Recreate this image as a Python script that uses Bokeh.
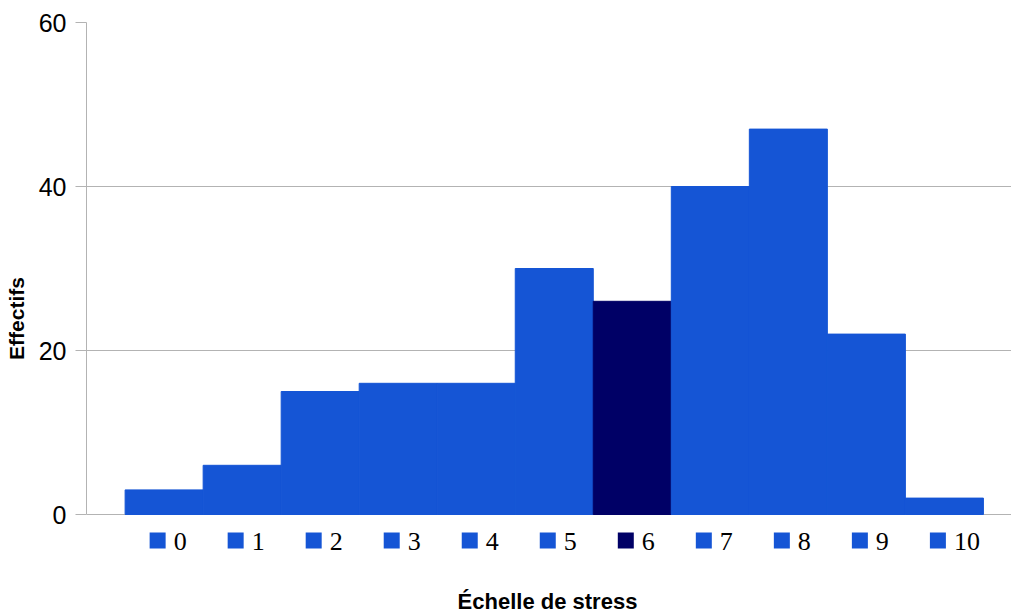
from bokeh.plotting import figure
from bokeh.models import Range1d, FixedTicker, ColumnDataSource
from bokeh.core.properties import value
from bokeh.embed import file_html
from bokeh.resources import INLINE

# Stress scale scores (0-10) and the number of respondents for each score
scores = [0, 1, 2, 3, 4, 5, 6, 7, 8, 9, 10]
counts = [3, 6, 15, 16, 16, 30, 26, 40, 47, 22, 2]
score_labels = [str(s) for s in scores]
y_ticks = [0, 20, 40, 60]

BLUE = "#1555d5"
NAVY = "#000066"
colors = [NAVY if s == 6 else BLUE for s in scores]

W, H = 1011, 614
LEFT, TOP = 86, 22
Y_MAX = 60
PLOT_H = 492                      # pixels between 0 and 60
px_y = Y_MAX / PLOT_H             # data units per vertical pixel
X0, X1 = -0.995, 10.86
px_x = (X1 - X0) / (W - LEFT)     # data units per horizontal pixel

p = figure(
    width=W, height=H,
    x_range=Range1d(X0, X1),
    y_range=Range1d(Y_MAX - (H - TOP) * px_y, Y_MAX),
    x_axis_location=None,
    toolbar_location=None,
    output_backend="svg",
    min_border_left=LEFT, min_border_right=0,
    min_border_top=TOP, min_border_bottom=0,
)
p.outline_line_color = None
p.background_fill_color = "white"
p.border_fill_color = "white"
p.xgrid.visible = False

GRAY = "#b3b3b3"
p.ygrid.ticker = FixedTicker(ticks=y_ticks)
p.ygrid.grid_line_color = GRAY

ax = p.yaxis[0]
ax.ticker = FixedTicker(ticks=y_ticks)
ax.bounds = (0, Y_MAX)
ax.axis_line_color = GRAY
ax.major_tick_line_color = GRAY
ax.major_tick_out = 11
ax.major_tick_in = 0
ax.minor_tick_line_color = None
ax.major_label_text_font = "Liberation Sans"
ax.major_label_text_font_size = "25px"
ax.major_label_text_color = "black"
ax.major_label_standoff = 9
ax.axis_label = "Effectifs"
ax.axis_label_text_font = "Liberation Sans"
ax.axis_label_text_font_style = "bold"
ax.axis_label_text_font_size = "21px"
ax.axis_label_text_color = "black"
ax.axis_label_standoff = 8

src = ColumnDataSource(dict(x=scores, top=counts, color=colors))
p.vbar(x="x", top="top", bottom=0, width=1.0, source=src,
       fill_color="color", line_color="color", line_width=1)

# category key under the bars: a coloured square followed by the score
key_y = Y_MAX - (540 - TOP) * px_y
key_x = [s - 6.5 * px_x for s in scores]
p.rect(x=key_x, y=key_y, width=16, height=16, width_units="screen",
       height_units="screen", fill_color=colors, line_color=None)
p.text(x=key_x, y=key_y, text=score_labels, x_offset=16, y_offset=1,
       text_font=value("Liberation Serif"), text_font_size="26px",
       text_align="left", text_baseline="middle", text_color="black")

# horizontal axis title
p.text(x=[X0 + (547 - LEFT) * px_x], y=[Y_MAX - (601 - TOP) * px_y],
       text=["Échelle de stress"], text_font=value("Liberation Sans"),
       text_font_style="bold", text_font_size="22px",
       text_align="center", text_baseline="middle", text_color="black")

open("out.html", "w").write(file_html(p, INLINE))
